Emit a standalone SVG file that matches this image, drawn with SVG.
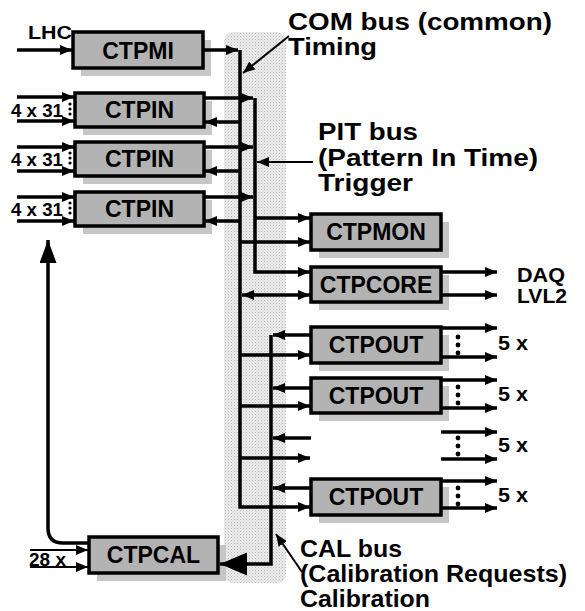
<svg xmlns="http://www.w3.org/2000/svg" width="585" height="611" viewBox="0 0 585 611">
<defs>
<style>
.box{fill:#b3b3b3;stroke:#000;stroke-width:3.5}
.sh{fill:#c6c6c6}
.bt{font-family:"Liberation Sans",Arial,sans-serif;font-weight:bold;font-size:23px;text-anchor:middle;fill:#000}
.lb{font-family:"Liberation Sans",Arial,sans-serif;font-weight:bold;fill:#000}
.ln{fill:none;stroke:#000;stroke-width:3.5}
.thin{fill:none;stroke:#000;stroke-width:2}
</style>
<pattern id="dots" width="3" height="3" patternUnits="userSpaceOnUse">
<rect width="3" height="3" fill="#ececec"/>
<rect width="1" height="1" fill="#b8b8b8"/>
<rect x="1.5" y="1.5" width="1" height="1" fill="#c8c8c8"/>
</pattern>
<marker id="a" markerUnits="userSpaceOnUse" markerWidth="12" markerHeight="10" refX="12" refY="5" orient="auto-start-reverse" viewBox="0 0 12 10">
<path d="M0,0 L12,5 L0,10 z" fill="#000"/>
</marker>
<marker id="big" markerUnits="userSpaceOnUse" markerWidth="27" markerHeight="23" refX="27" refY="11.5" orient="auto" viewBox="0 0 27 23">
<path d="M0,0 L27,11.5 L0,23 z" fill="#000"/>
</marker>
<marker id="up" markerUnits="userSpaceOnUse" markerWidth="23" markerHeight="17" refX="23" refY="8.5" orient="auto" viewBox="0 0 23 17">
<path d="M0,0 L23,8.5 L0,17 z" fill="#000"/>
</marker>
</defs>
<rect width="585" height="611" fill="#fff"/>
<rect id="busband" x="224" y="32" width="62" height="551" rx="9" fill="url(#dots)"/>

<g id="CTPMI"><rect class="sh" x="81" y="40" width="130" height="36"/><rect class="box" x="73" y="32" width="130" height="36"/><text class="bt" x="138" y="59">CTPMI</text></g>
<g id="CTPIN1"><rect class="sh" x="83" y="101" width="129" height="34"/><rect class="box" x="75" y="93" width="129" height="34"/><text class="bt" x="139.5" y="118">CTPIN</text></g>
<g id="CTPIN2"><rect class="sh" x="83" y="150" width="129" height="34"/><rect class="box" x="75" y="142" width="129" height="34"/><text class="bt" x="139.5" y="167">CTPIN</text></g>
<g id="CTPIN3"><rect class="sh" x="83" y="200" width="129" height="34"/><rect class="box" x="75" y="192" width="129" height="34"/><text class="bt" x="139.5" y="217">CTPIN</text></g>
<g id="CTPMON"><rect class="sh" x="319" y="222" width="130" height="36"/><rect class="box" x="311" y="214" width="130" height="36"/><text class="bt" x="376" y="240">CTPMON</text></g>
<g id="CTPCORE"><rect class="sh" x="319" y="275" width="130" height="35"/><rect class="box" x="311" y="267" width="130" height="35"/><text class="bt" x="376" y="293">CTPCORE</text></g>
<g id="CTPOUT1"><rect class="sh" x="319" y="335" width="130" height="36"/><rect class="box" x="311" y="327" width="130" height="36"/><text class="bt" x="376" y="353">CTPOUT</text></g>
<g id="CTPOUT2"><rect class="sh" x="319" y="386" width="130" height="35"/><rect class="box" x="311" y="378" width="130" height="35"/><text class="bt" x="376" y="404">CTPOUT</text></g>
<g id="CTPOUT3"><rect class="sh" x="319" y="487" width="130" height="36"/><rect class="box" x="311" y="479" width="130" height="36"/><text class="bt" x="376" y="505">CTPOUT</text></g>
<g id="CTPCAL"><rect class="sh" x="97" y="545" width="129" height="36"/><rect class="box" x="89" y="537" width="129" height="36"/><text class="bt" x="153.5" y="563">CTPCAL</text></g>

<g id="connectors">
<path class="ln" d="M17,50 H72" marker-end="url(#a)"/>
<path class="ln" d="M203,50 H238" marker-end="url(#a)"/>
<path class="ln" d="M240,50 V507 H310" marker-end="url(#a)"/>
<path class="ln" d="M255,98 V272 H310" marker-end="url(#a)"/>
<path class="ln" d="M204,98 H253" marker-end="url(#a)"/>
<path class="ln" d="M204,147 H253" marker-end="url(#a)"/>
<path class="ln" d="M204,197 H253" marker-end="url(#a)"/>
<path class="ln" d="M240,122 H205" marker-end="url(#a)"/>
<path class="ln" d="M240,171 H205" marker-end="url(#a)"/>
<path class="ln" d="M240,221 H205" marker-end="url(#a)"/>
<path class="ln" d="M17,97 H74" marker-end="url(#a)"/>
<path class="ln" d="M17,121 H74" marker-end="url(#a)"/>
<path class="ln" d="M17,147 H74" marker-end="url(#a)"/>
<path class="ln" d="M17,171 H74" marker-end="url(#a)"/>
<path class="ln" d="M17,197 H74" marker-end="url(#a)"/>
<path class="ln" d="M17,221 H74" marker-end="url(#a)"/>
<path class="ln" d="M255,218 H310" marker-end="url(#a)"/>
<path class="ln" d="M240,242 H310" marker-end="url(#a)"/>
<path class="ln" d="M242,295 H310" marker-start="url(#a)" marker-end="url(#a)"/>
<path class="ln" d="M441,272 H497" marker-end="url(#a)"/>
<path class="ln" d="M441,295 H497" marker-end="url(#a)"/>
<path class="ln" d="M240,355 H310" marker-end="url(#a)"/>
<path class="ln" d="M240,406 H310" marker-end="url(#a)"/>
<path class="ln" d="M240,458 H310" marker-end="url(#a)"/>
<path class="ln" d="M271,335 V564 H220" marker-end="url(#big)"/>
<path class="ln" d="M311,335 H273" marker-end="url(#a)"/>
<path class="ln" d="M311,388 H273" marker-end="url(#a)"/>
<path class="ln" d="M311,438 H273" marker-end="url(#a)"/>
<path class="ln" d="M311,488 H273" marker-end="url(#a)"/>
<path class="ln" d="M441,328 H497" marker-end="url(#a)"/>
<path class="ln" d="M441,357 H497" marker-end="url(#a)"/>
<path class="ln" d="M441,380 H497" marker-end="url(#a)"/>
<path class="ln" d="M441,408 H497" marker-end="url(#a)"/>
<path class="ln" d="M441,432 H497" marker-end="url(#a)"/>
<path class="ln" d="M441,459 H497" marker-end="url(#a)"/>
<path class="ln" d="M441,481 H497" marker-end="url(#a)"/>
<path class="ln" d="M441,508 H497" marker-end="url(#a)"/>
<path class="thin" d="M30,550 H88" marker-end="url(#a)"/>
<path class="thin" d="M30,567 H88" marker-end="url(#a)"/>
<path class="ln" d="M89,543 H63 Q48,543 48,528 V240" marker-end="url(#up)"/>
<path class="thin" d="M289,36 L243,73" marker-end="url(#a)"/>
<path class="thin" d="M313,162 H257" marker-end="url(#a)"/>
<path class="thin" d="M302,572 L276,534" marker-end="url(#a)"/>
</g>

<g id="dotmarks" fill="#000">
<circle cx="70" cy="104" r="1.6"/><circle cx="70" cy="109" r="1.6"/><circle cx="70" cy="114" r="1.6"/>
<circle cx="70" cy="153" r="1.6"/><circle cx="70" cy="158" r="1.6"/><circle cx="70" cy="163" r="1.6"/>
<circle cx="70" cy="203" r="1.6"/><circle cx="70" cy="208" r="1.6"/><circle cx="70" cy="213" r="1.6"/>
<circle cx="458" cy="337" r="2.4"/><circle cx="458" cy="345" r="2.4"/><circle cx="458" cy="353" r="2.4"/>
<circle cx="458" cy="387" r="2.4"/><circle cx="458" cy="395" r="2.4"/><circle cx="458" cy="403" r="2.4"/>
<circle cx="458" cy="438" r="2.4"/><circle cx="458" cy="446" r="2.4"/><circle cx="458" cy="454" r="2.4"/>
<circle cx="458" cy="488" r="2.4"/><circle cx="458" cy="496" r="2.4"/><circle cx="458" cy="504" r="2.4"/>
</g>

<g id="labels">
<text class="lb" x="28" y="39" font-size="18" textLength="44" lengthAdjust="spacingAndGlyphs">LHC</text>
<text class="lb" x="11" y="117" font-size="18" textLength="52" lengthAdjust="spacingAndGlyphs">4 x 31</text>
<text class="lb" x="11" y="166" font-size="18" textLength="52" lengthAdjust="spacingAndGlyphs">4 x 31</text>
<text class="lb" x="11" y="216" font-size="18" textLength="52" lengthAdjust="spacingAndGlyphs">4 x 31</text>
<text class="lb" x="29" y="566" font-size="19" textLength="37" lengthAdjust="spacingAndGlyphs">28 x</text>
<text class="lb" x="288" y="30" font-size="24" textLength="264" lengthAdjust="spacingAndGlyphs">COM bus (common)</text>
<text class="lb" x="288" y="55" font-size="24" textLength="89" lengthAdjust="spacingAndGlyphs">Timing</text>
<text class="lb" x="318" y="140" font-size="24" textLength="100" lengthAdjust="spacingAndGlyphs">PIT bus</text>
<text class="lb" x="318" y="166" font-size="24" textLength="220" lengthAdjust="spacingAndGlyphs">(Pattern In Time)</text>
<text class="lb" x="318" y="191" font-size="24" textLength="95" lengthAdjust="spacingAndGlyphs">Trigger</text>
<text class="lb" x="517" y="282" font-size="21" textLength="48" lengthAdjust="spacingAndGlyphs">DAQ</text>
<text class="lb" x="517" y="303" font-size="21" textLength="50" lengthAdjust="spacingAndGlyphs">LVL2</text>
<text class="lb" x="498" y="350" font-size="20" textLength="30" lengthAdjust="spacingAndGlyphs">5 x</text>
<text class="lb" x="498" y="401" font-size="20" textLength="30" lengthAdjust="spacingAndGlyphs">5 x</text>
<text class="lb" x="498" y="452" font-size="20" textLength="30" lengthAdjust="spacingAndGlyphs">5 x</text>
<text class="lb" x="498" y="502" font-size="20" textLength="30" lengthAdjust="spacingAndGlyphs">5 x</text>
<text class="lb" x="300" y="557" font-size="24" textLength="102" lengthAdjust="spacingAndGlyphs">CAL bus</text>
<text class="lb" x="300" y="582" font-size="24" textLength="267" lengthAdjust="spacingAndGlyphs">(Calibration Requests)</text>
<text class="lb" x="300" y="607" font-size="24" textLength="130" lengthAdjust="spacingAndGlyphs">Calibration</text>
</g>
</svg>
